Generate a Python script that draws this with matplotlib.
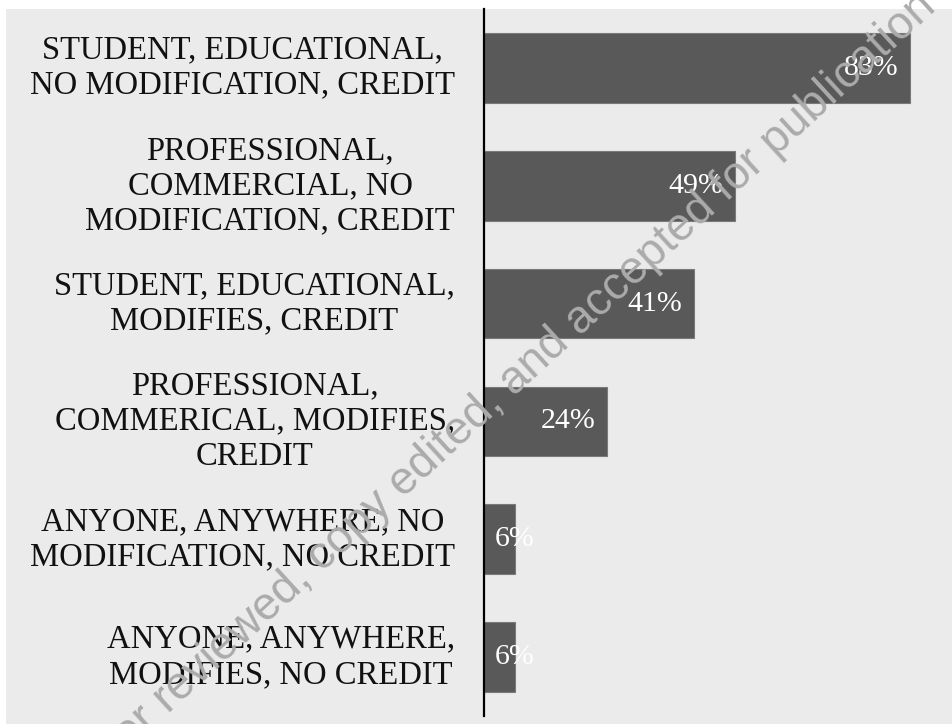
import matplotlib
matplotlib.use("Agg")
import matplotlib.pyplot as plt
from matplotlib.patches import Rectangle

categories = [
    "STUDENT, EDUCATIONAL,\nNO MODIFICATION, CREDIT",
    "PROFESSIONAL,\nCOMMERCIAL, NO\nMODIFICATION, CREDIT",
    "STUDENT, EDUCATIONAL,\nMODIFIES, CREDIT",
    "PROFESSIONAL,\nCOMMERICAL, MODIFIES,\nCREDIT",
    "ANYONE, ANYWHERE, NO\nMODIFICATION, NO CREDIT",
    "ANYONE, ANYWHERE,\nMODIFIES, NO CREDIT",
]
values = [83, 49, 41, 24, 6, 6]
value_labels = ["83%", "49%", "41%", "24%", "6%", "6%"]

W, H = 953, 724
fig = plt.figure(figsize=(W / 100, H / 100), dpi=100, facecolor="white")
fig.patches.append(Rectangle((6 / W, 0), 1 - 6 / W, (H - 9) / H,
                             transform=fig.transFigure, facecolor="#ebebeb",
                             edgecolor="none", zorder=-10))

ax = fig.add_axes([484 / W, 8 / H, 1 - 484 / W, (716 - 9) / H])
ax.set_facecolor("none")
y = list(range(len(values)))
ax.barh(y, values, height=0.59, color="#595959", edgecolor="#7a7a7a", linewidth=0.8, zorder=2)
ax.set_ylim(len(values) - 0.5, -0.5)
ax.set_xlim(0, 91.4)

serif = ["Liberation Serif", "DejaVu Serif"]
ax.set_yticks(y)
ax.set_yticklabels(categories, fontfamily=serif, fontsize=23.5, color="#111111", linespacing=1.2)
for t in ax.get_yticklabels():
    t.set_multialignment("center")
    t.set_verticalalignment("center")
ax.tick_params(axis="y", length=0, pad=21)
ax.set_xticks([])
for s in ["top", "right", "bottom"]:
    ax.spines[s].set_visible(False)
ax.spines["left"].set_color("black")
ax.spines["left"].set_linewidth(1.6)
ax.spines["left"].set_zorder(5)

for yi, v, lab in zip(y, values, value_labels):
    if v > 10:
        ax.text(v - 2.3, yi, lab, ha="right", va="center", color="white",
                fontfamily=serif, fontsize=21.5, zorder=3)
    else:
        ax.text(2.1, yi, lab, ha="left", va="center", color="white",
                fontfamily=serif, fontsize=21.5, zorder=3)

fig.text(506 / W, 1 - 388 / H,
         "peer reviewed, copy edited, and accepted for publication",
         rotation=42.5, ha="center", va="center", fontsize=33,
         fontfamily=["Liberation Sans", "DejaVu Sans"], color="#ababab",
         zorder=10)

fig.savefig("out.png", dpi=100, facecolor="white")
